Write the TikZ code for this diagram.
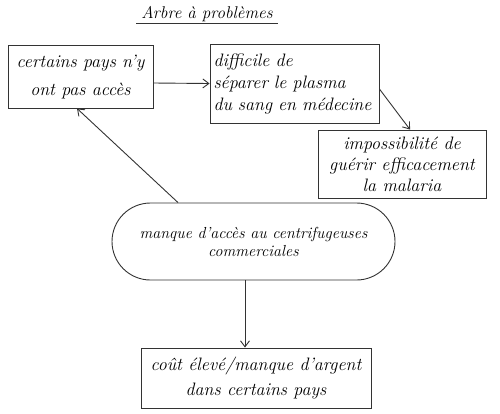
\documentclass[tikz,border=0pt]{standalone}
\usetikzlibrary{arrows.meta,shapes.misc}
\begin{document}
\begin{tikzpicture}[x=1pt,y=-1pt,
  every node/.style={font=\fontsize{18}{22}\selectfont\itshape},
  boxnode/.style={draw=black!80,line width=0.9pt,inner sep=1pt,align=center},
  arr/.style={draw=black!80,line width=0.9pt,-{Straight Barb[length=6pt,width=9pt]}}]
\useasboundingbox (0,0) rectangle (500,413);
\node[minimum width=141pt,inner sep=1pt,font=\fontsize{17}{20}\selectfont\itshape] (title) at (207,14) {Arbre à problèmes};
\draw[black!80,line width=0.9pt] ([yshift=-1pt]title.south west) -- ([yshift=-1pt]title.south east);
\node[boxnode,minimum width=145pt,minimum height=63pt,font=\fontsize{18}{28}\selectfont\itshape] (b1) at (80.5,76.5) {certains pays n'y\\ont pas accès};
\node[boxnode,minimum width=169pt,minimum height=79pt,align=left,text width=162pt] (b2) at (294.5,83.5) {difficile de\\séparer le plasma\\du sang en médecine};
\node[boxnode,minimum width=168pt,minimum height=68pt,font=\fontsize{18}{21}\selectfont\itshape] (b3) at (402,164) {impossibilité de\\guérir efficacement\\la malaria};
\node[boxnode,rounded rectangle,minimum width=285pt,minimum height=77pt,font=\fontsize{16}{18}\selectfont\itshape] (st) at (253.5,241.5) {manque d'accès au centrifugeuses\\commerciales};
\node[boxnode,minimum width=230pt,minimum height=60pt,font=\fontsize{18}{25}\selectfont\itshape] (b5) at (256,378) {coût élevé/manque d'argent\\dans certains pays};
\draw[arr] ([yshift=-6.5pt]b1.east) -- ([yshift=0pt]b2.west);
\draw[arr] ([yshift=-5.5pt]b2.east) -- ([xshift=8pt]b3.north);
\draw[arr] ([xshift=-75.5pt]st.north) -- ([xshift=-3.5pt]b1.south);
\draw[arr] ([xshift=-8.5pt]st.south) -- ([xshift=-11pt]b5.north);
\end{tikzpicture}
\end{document}
